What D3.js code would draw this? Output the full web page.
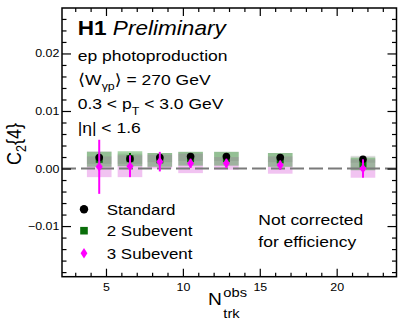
<!DOCTYPE html>
<html>
<head>
<meta charset="utf-8">
<script src="https://cdn.jsdelivr.net/npm/d3@7"></script>
<style>
  html, body { margin: 0; padding: 0; background: #fff; }
  svg { display: block; font-family: "Liberation Sans", Arial, Helvetica, sans-serif; }
</style>
</head>
<body>
<svg id="chart" width="398" height="320"></svg>
<script>
// ---------------- data ----------------
const nTrk      = [4.56, 6.56, 8.5, 10.5, 12.83, 16.33, 21.71];
const stdVal    = [0.0019, 0.0017, 0.0019, 0.0021, 0.0021, 0.0019, 0.0016];
const stdStat   = [0.0004, 0.0003, 0.0003, 0.0003, 0.0003, 0.0003, 0.0004];
const stdSys    = [0.0011, 0.0009, 0.0008, 0.0008, 0.0008, 0.0008, 0.0006];
const sub2Val   = [0.0016, 0.0017, 0.0015, 0.0017, 0.0017, 0.0015, 0.0008];
const sub2Stat  = [0.0012, 0.0010, 0.0009, 0.0008, 0.0008, 0.0010, 0.0011];
const sub2Sys   = [0.0013, 0.0013, 0.0012, 0.0012, 0.0012, 0.0012, 0.0011];
const sub3Val   = [0.0003, 0.0004, 0.0012, 0.0009, 0.0009, 0.0006, 0.0000];
const sub3Stat  = [0.0047, 0.0019, 0.0017, 0.0008, 0.0008, 0.0008, 0.0016];
const sub3Sys   = [0.0018, 0.0019, 0.0012, 0.0017, 0.0011, 0.0015, 0.0016];

const xTickVals   = [5, 10, 15, 20];
const xTickLabels = ["5", "10", "15", "20"];
const yTickVals   = [-0.01, 0.00, 0.01, 0.02];
const yTickLabels = ["\u22120.01", "0.00", "0.01", "0.02"];
const legendNames = ["Standard", "2 Subevent", "3 Subevent"];

// ---------------- layout ----------------
const SX = 1.13; // horizontal stretch of glyphs seen in the reference
const L = 62, R = 396.5, T = 8, B = 276.7;
const x = d3.scaleLinear().domain([2.14, 23.89]).range([L, R]);
const y = d3.scaleLinear().domain([-0.0188, 0.0279]).range([B, T]);
const boxHalf = 0.8;

const svg = d3.select("#chart");

function stext(parent, px, py, size) {
  return parent.append("text")
    .attr("transform", `translate(${px},${py}) scale(${SX},1)`)
    .attr("font-size", size).attr("fill", "#000");
}

const idx = d3.range(nTrk.length);

// ---------------- systematic boxes ----------------
const gBoxes = svg.append("g");
function boxes(vals, sys, fill, op) {
  gBoxes.append("g").selectAll("rect").data(idx).join("rect")
    .attr("x", i => x(nTrk[i] - boxHalf))
    .attr("width", i => x(nTrk[i] + boxHalf) - x(nTrk[i] - boxHalf))
    .attr("y", i => y(vals[i] + sys[i]))
    .attr("height", i => y(vals[i] - sys[i]) - y(vals[i] + sys[i]))
    .attr("fill", fill).attr("fill-opacity", op);
}
boxes(stdVal, stdSys, "#b4b4b4", 0.45);
boxes(sub3Val, sub3Sys, "#e07ae0", 0.45);
boxes(sub2Val, sub2Sys, "#3c9e3c", 0.45);

// ---------------- zero line ----------------
svg.append("line")
  .attr("x1", x.range()[0]).attr("x2", x.range()[1])
  .attr("y1", y(0)).attr("y2", y(0))
  .attr("stroke", "#7a7a7a").attr("stroke-width", 2)
  .attr("stroke-dasharray", "14,5");

// ---------------- error bars + markers ----------------
function errBars(vals, errs, color, w) {
  svg.append("g").selectAll("line").data(idx).join("line")
    .attr("x1", i => x(nTrk[i])).attr("x2", i => x(nTrk[i]))
    .attr("y1", i => y(vals[i] + errs[i])).attr("y2", i => y(vals[i] - errs[i]))
    .attr("stroke", color).attr("stroke-width", w);
}
// 2 subevent
errBars(sub2Val, sub2Stat, "#006400", 2);
svg.append("g").selectAll("rect").data(idx).join("rect")
  .attr("x", i => x(nTrk[i]) - 3.5).attr("y", i => y(sub2Val[i]) - 3.5)
  .attr("width", 7).attr("height", 7).attr("fill", "#0a6e0a");
// standard
errBars(stdVal, stdStat, "#000", 1.5);
svg.append("g").selectAll("circle").data(idx).join("circle")
  .attr("cx", i => x(nTrk[i])).attr("cy", i => y(stdVal[i])).attr("r", 3.8).attr("fill", "#000");
// 3 subevent
errBars(sub3Val, sub3Stat, "#ff00ff", 2);
const diamond = (cx, cy, w, h) => `M${cx},${cy - h} L${cx + w},${cy} L${cx},${cy + h} L${cx - w},${cy} Z`;
svg.append("g").selectAll("path").data(idx).join("path")
  .attr("d", i => diamond(x(nTrk[i]), y(sub3Val[i]), 3.5, 4.8))
  .attr("fill", "#ff00ff");

// ---------------- axes ----------------
function styleAxis(g) {
  g.select(".domain").remove();
  g.selectAll("line").attr("stroke", "#000").attr("stroke-width", 1.2);
}
const minorX = d3.range(3, 24, 1).filter(v => !xTickVals.includes(v));
const minorY = d3.range(-18, 28, 2).map(v => v / 1000).filter(v => !yTickVals.some(t => Math.abs(t - v) < 1e-9));

// bottom
const gxb = svg.append("g").attr("transform", `translate(0,${B})`)
  .call(d3.axisBottom(x).tickValues(xTickVals).tickFormat((d, i) => xTickLabels[i])
    .tickSizeInner(-8).tickSizeOuter(0).tickPadding(6.2));
styleAxis(gxb);
gxb.selectAll("text").attr("font-size", 11).attr("fill", "#000")
  .attr("font-family", "Liberation Sans, Arial, sans-serif")
  .attr("transform", `scale(${SX},1)`);
svg.append("g").attr("transform", `translate(0,${B})`)
  .call(d3.axisBottom(x).tickValues(minorX).tickFormat("").tickSizeInner(-4).tickSizeOuter(0)).call(styleAxis);
// top
svg.append("g").attr("transform", `translate(0,${T})`)
  .call(d3.axisTop(x).tickValues(xTickVals).tickFormat("").tickSizeInner(-8).tickSizeOuter(0)).call(styleAxis);
svg.append("g").attr("transform", `translate(0,${T})`)
  .call(d3.axisTop(x).tickValues(minorX).tickFormat("").tickSizeInner(-4).tickSizeOuter(0)).call(styleAxis);
// left
const gyl = svg.append("g").attr("transform", `translate(${L},0)`)
  .call(d3.axisLeft(y).tickValues(yTickVals).tickFormat((d, i) => yTickLabels[i])
    .tickSizeInner(-9).tickSizeOuter(0).tickPadding(2.7));
styleAxis(gyl);
gyl.selectAll("text").attr("font-size", 11).attr("fill", "#000")
  .attr("font-family", "Liberation Sans, Arial, sans-serif")
  .attr("x", -2.7 / SX)
  .attr("transform", `scale(${SX},1)`);
svg.append("g").attr("transform", `translate(${L},0)`)
  .call(d3.axisLeft(y).tickValues(minorY).tickFormat("").tickSizeInner(-4.5).tickSizeOuter(0)).call(styleAxis);
// right
svg.append("g").attr("transform", `translate(${R},0)`)
  .call(d3.axisRight(y).tickValues(yTickVals).tickFormat("").tickSizeInner(-9).tickSizeOuter(0)).call(styleAxis);
svg.append("g").attr("transform", `translate(${R},0)`)
  .call(d3.axisRight(y).tickValues(minorY).tickFormat("").tickSizeInner(-4.5).tickSizeOuter(0)).call(styleAxis);

// frame
svg.append("rect").attr("x", L).attr("y", T).attr("width", R - L).attr("height", B - T)
  .attr("fill", "none").attr("stroke", "#000").attr("stroke-width", 1.5);

// ---------------- axis titles ----------------
stext(svg, 208, 305, 17).text("N");
stext(svg, 223.3, 296.5, 13).text("obs");
stext(svg, 223.3, 317.5, 13).text("trk");

const yl = svg.append("text")
  .attr("transform", `translate(20.5,165) scale(${SX},1) rotate(-90)`)
  .attr("font-size", 18).attr("fill", "#000");
yl.append("tspan").text("C");
yl.append("tspan").attr("dy", 5).attr("font-size", 12.5).text("2");
yl.append("tspan").attr("dy", -5).text("{4}");

// ---------------- header text ----------------
const t1 = stext(svg, 77.7, 35, 20);
t1.append("tspan").attr("font-weight", "bold").text("H1");
t1.append("tspan").attr("font-style", "italic").text(" Preliminary");

stext(svg, 77.7, 61, 15.5).text("ep photoproduction");

const t3 = stext(svg, 77.7, 85, 15.5);
t3.append("tspan").attr("font-family", "DejaVu Sans").attr("font-weight", 200).text("\u27E8");
t3.append("tspan").text("W");
t3.append("tspan").attr("dy", 5).attr("font-size", 11).text("\u03B3p");
t3.append("tspan").attr("dy", -5).attr("font-family", "DejaVu Sans").text("\u27E9");
t3.append("tspan").text(" = 270 GeV");

const t4 = stext(svg, 77.7, 109, 15.5);
t4.append("tspan").text("0.3 < p");
t4.append("tspan").attr("dy", 5.5).attr("font-size", 11).text("T");
t4.append("tspan").attr("dy", -5.5).text(" < 3.0 GeV");

stext(svg, 77.7, 133, 15.5).text("|\u03B7| < 1.6");

// ---------------- legend ----------------
const legY = [209.3, 230.7, 253.3];
svg.append("circle").attr("cx", 84).attr("cy", legY[0]).attr("r", 4.2).attr("fill", "#000");
svg.append("rect").attr("x", 80.2).attr("y", legY[1] - 3.8).attr("width", 7.6).attr("height", 7.6).attr("fill", "#0a6e0a");
svg.append("path").attr("d", diamond(84, legY[2], 3.4, 5.2)).attr("fill", "#ff00ff");
legendNames.forEach((nm, i) => stext(svg, 106.7, legY[i] + 5.4, 15).text(nm));

stext(svg, 258.3, 225, 15.5).text("Not corrected");
stext(svg, 258.3, 246.5, 15.5).text("for efficiency");
</script>
</body>
</html>
